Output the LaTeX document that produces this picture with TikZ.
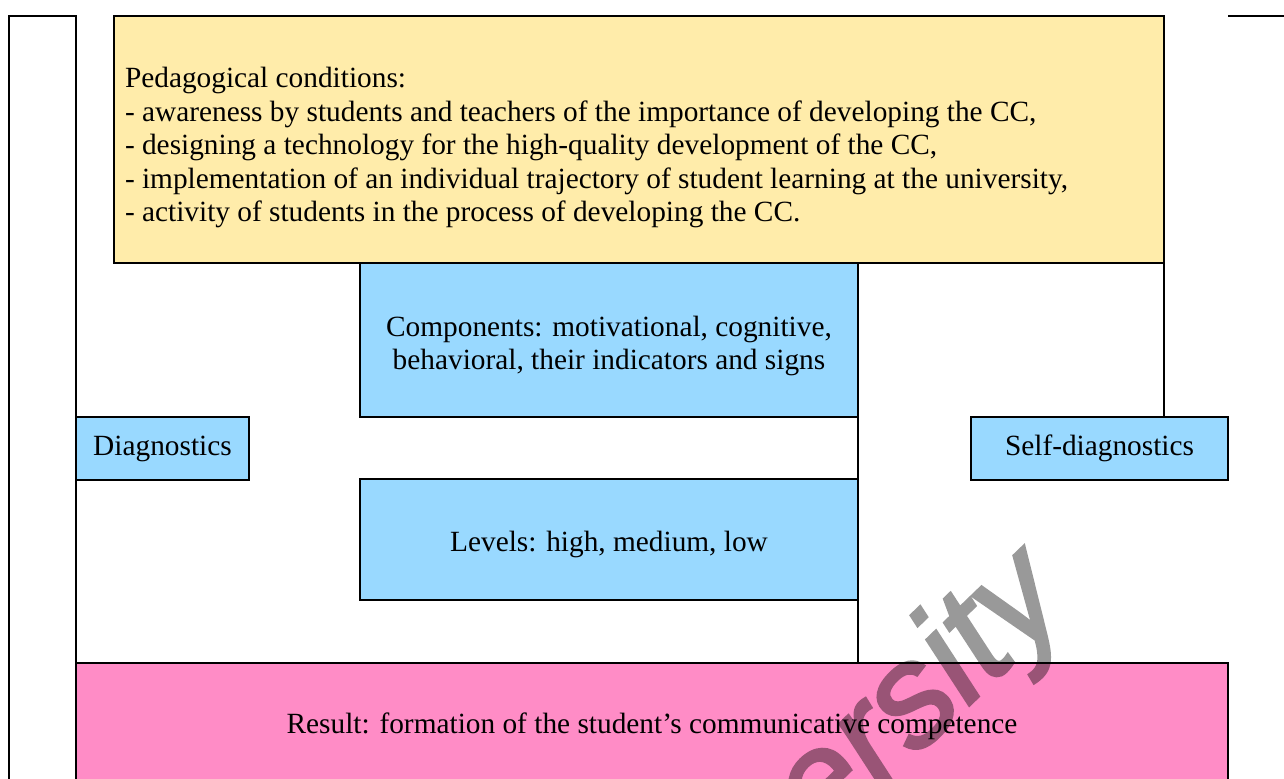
\documentclass[tikz,border=0pt]{standalone}
\usepackage{fontspec}
\setmainfont{Liberation Serif}
\newfontfamily\wmfont[FakeBold=2]{Liberation Sans}
\definecolor{condyellow}{RGB}{255,236,170}
\definecolor{compblue}{RGB}{153,217,255}
\definecolor{respink}{RGB}{255,140,198}
\newcommand\mainsize{\fontsize{22pt}{25.1pt}\selectfont}
\tikzset{
  box/.style={draw=black, line width=1.4pt, rectangle, inner sep=0pt, outer sep=0pt,
              anchor=north west},
  txt/.style={inner sep=0pt, outer sep=0pt, font=\mainsize, text=black},
  frameline/.style={draw=black, line width=1.4pt},
  wm/.style={inner sep=0pt, outer sep=0pt, font=\wmfont\itshape\fontsize{108.75pt}{108.75pt}\selectfont,
             text=black},
}
\begin{document}
\begin{tikzpicture}[x=0.75pt,y=-0.75pt]
\useasboundingbox (0,0) rectangle (1284,778);
\clip (0,0) rectangle (1284,778);
\fill[white] (0,0) rectangle (1284,778);

% left tall frame
\node[box, fill=white, minimum width=50.25pt, minimum height=588.2pt] (leftbar) at (9,15.7) {};
% conditions
\node[box, fill=condyellow, minimum width=787.5pt, minimum height=185.5pt] (cond) at (114,15.7) {};
\node[txt, anchor=base west] (c1) at (125,87.5)  {Pedagogical conditions:};
\node[txt, anchor=base west] (c2) at (125,121)   {- awareness by students and teachers of the importance of developing the CC,};
\node[txt, anchor=base west] (c3) at (125,154.5) {- designing a technology for the high-quality development of the CC,};
\node[txt, anchor=base west] (c4) at (125,188)   {- implementation of an individual trajectory of student learning at the university,};
\node[txt, anchor=base west] (c5) at (125,221.5) {- activity of students in the process of developing the CC.};

% components
\node[box, fill=compblue, minimum width=373.5pt, minimum height=115.5pt] (comp) at (360,263) {};
\node[txt, anchor=base] (comptext1) at (609,336) {Components: motivational, cognitive,};
\node[txt, anchor=base] (comptext2) at (609,369.3) {behavioral, their indicators and signs};

% diagnostics
\node[box, fill=compblue, minimum width=129.75pt, minimum height=47.25pt] (diag) at (76,417) {};
\node[txt, anchor=base] (diagtext) at (162.5,455) {Diagnostics};

% self-diagnostics
\node[box, fill=compblue, minimum width=192.75pt, minimum height=47.25pt] (self) at (971,417) {};
\node[txt, anchor=base] (selftext) at (1099.5,455) {Self-diagnostics};

% levels
\node[box, fill=compblue, minimum width=373.5pt, minimum height=90.75pt] (levels) at (360,479) {};
\node[txt, anchor=base] (levtext) at (609,551) {Levels: high, medium, low};

% result
\node[box, fill=respink, minimum width=864pt, minimum height=103pt] (result) at (76,662.7) {};
\node[txt, anchor=base] (restext) at (652,733) {Result: formation of the student’s communicative competence};

% continuation lines
\draw[frameline] (cond.south east) -- (cond.south east |- self.north);
\draw[frameline] (comp.south east) -- (comp.south east |- result.north);

% top-right fragment
\coordinate (tr1) at (1228,15.7);
\coordinate (tr2) at (1295,15.7);
\draw[frameline] (tr1) -- (tr2);

% watermark
\begin{scope}[transparency group, opacity=0.4]
\node[wm, rotate=44, anchor=base east] (wmark) at (1072,606) {University};
\end{scope}
\end{tikzpicture}
\end{document}
